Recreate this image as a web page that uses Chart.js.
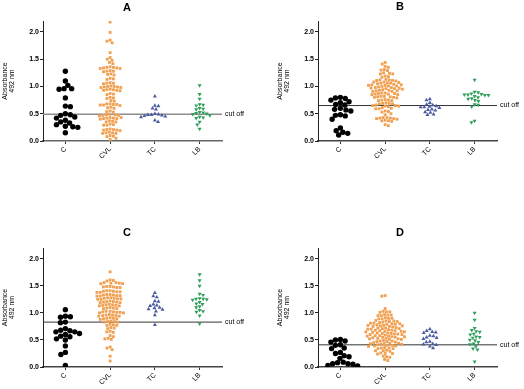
<!DOCTYPE html>
<html>
<head>
<meta charset="utf-8">
<script src="https://cdn.jsdelivr.net/npm/chart.js@4/dist/chart.umd.min.js"></script>
<style>
  html, body { margin: 0; padding: 0; background: #fff; }
  body { width: 524px; height: 389px; position: relative; overflow: hidden; }
  canvas { position: absolute; }
</style>
</head>
<body>
<canvas id="cA" width="262" height="195" style="left:0;top:0"></canvas>
<canvas id="cB" width="262" height="195" style="left:262px;top:0"></canvas>
<canvas id="cC" width="262" height="194" style="left:0;top:195px"></canvas>
<canvas id="cD" width="262" height="194" style="left:262px;top:195px"></canvas>
<script>
// ---------- data ----------
const categories = ['C', 'CVL', 'TC', 'LB'];
const yTicks = [0.0, 0.5, 1.0, 1.5, 2.0];
const yAxisTitle = ['Absorbance', '492 nm'];
const cutoffLabel = 'cut off';
const panelTitles = ['A', 'B', 'C', 'D'];
const cutoffs = [0.49, 0.65, 0.83, 0.41];

// Panel A
const A_C = [1.28, 1.10, 1.02, 0.96, 0.95, 0.96, 0.79, 0.64, 0.63, 0.50, 0.48, 0.47, 0.44, 0.42, 0.38, 0.35, 0.33, 0.30, 0.27, 0.26, 0.25, 0.15];
const A_CVL = [2.18, 1.99, 1.85, 1.83, 1.80, 1.62, 1.53, 1.50, 1.48, 1.44, 1.42,
  1.36, 1.35, 1.35, 1.34, 1.34, 1.33, 1.33, 1.29, 1.28, 1.28, 1.27, 1.23, 1.22, 1.21,
  1.15, 1.14, 1.13, 1.07, 1.06, 1.06, 1.05, 1.01, 1.00, 1.00, 0.99, 0.99, 0.98, 0.98,
  0.95, 0.94, 0.94, 0.93, 0.93, 0.92, 0.87, 0.86, 0.85, 0.80, 0.79, 0.78, 0.74, 0.73,
  0.68, 0.68, 0.67, 0.67, 0.66, 0.66, 0.65, 0.62, 0.61, 0.60, 0.55, 0.54, 0.53,
  0.49, 0.48, 0.48, 0.47, 0.47, 0.46, 0.43, 0.43, 0.42, 0.42, 0.41, 0.41, 0.40,
  0.37, 0.36, 0.35, 0.35, 0.31, 0.30, 0.29, 0.29, 0.22, 0.21, 0.21, 0.20, 0.20, 0.19,
  0.16, 0.15, 0.15, 0.14, 0.14, 0.10, 0.09, 0.08, 0.05, 0.03];
const A_TC = [0.82, 0.65, 0.64, 0.60, 0.58, 0.50, 0.49, 0.48, 0.48, 0.47, 0.46, 0.45, 0.44, 0.38, 0.35];
const A_LB = [1.02, 0.86, 0.77, 0.67, 0.66, 0.65, 0.60, 0.59, 0.58, 0.53, 0.52, 0.51, 0.50, 0.49, 0.47, 0.44, 0.43, 0.42, 0.35, 0.30, 0.22];

// Panel B
const B_C = [0.80, 0.79, 0.78, 0.75, 0.72, 0.70, 0.67, 0.66, 0.60, 0.58, 0.57, 0.55, 0.48, 0.47, 0.46, 0.40, 0.24, 0.19, 0.16, 0.14, 0.11];
const B_CVL = [1.44, 1.41, 1.37, 1.35, 1.31, 1.30, 1.29, 1.25, 1.24, 1.23, 1.23, 1.19, 1.18, 1.17,
  1.13, 1.12, 1.12, 1.11, 1.11, 1.10, 1.08, 1.08, 1.07, 1.07, 1.06, 1.06, 1.05,
  1.04, 1.03, 1.03, 1.02, 1.02, 1.01, 1.01, 1.00, 0.99, 0.98, 0.98, 0.97, 0.97, 0.96, 0.96, 0.95,
  0.94, 0.93, 0.93, 0.92, 0.92, 0.91, 0.91, 0.88, 0.88, 0.87, 0.87, 0.86, 0.86, 0.85, 0.85,
  0.82, 0.82, 0.81, 0.81, 0.80, 0.80, 0.79, 0.76, 0.75, 0.75, 0.74, 0.74,
  0.70, 0.69, 0.69, 0.68, 0.68, 0.66, 0.65, 0.65, 0.64, 0.64, 0.63, 0.61, 0.60, 0.59, 0.59,
  0.55, 0.54, 0.53, 0.50, 0.48, 0.43, 0.43, 0.42, 0.42, 0.41, 0.41, 0.40, 0.38, 0.37, 0.37, 0.36, 0.30, 0.28];
const B_TC = [0.77, 0.75, 0.70, 0.67, 0.66, 0.64, 0.63, 0.62, 0.62, 0.61, 0.58, 0.57, 0.56, 0.53, 0.52, 0.49, 0.48];
const B_LB = [1.12, 0.90, 0.89, 0.87, 0.86, 0.85, 0.85, 0.84, 0.84, 0.82, 0.80, 0.78, 0.77, 0.75, 0.73, 0.67, 0.66, 0.63, 0.37, 0.34];

// Panel C
const C_C = [1.06, 0.94, 0.93, 0.92, 0.83, 0.82, 0.71, 0.68, 0.67, 0.65, 0.65, 0.62, 0.60, 0.57, 0.56, 0.52, 0.50, 0.39, 0.27, 0.23, 0.03];
const C_CVL = [1.76, 1.61, 1.60, 1.59, 1.56, 1.56, 1.55, 1.55, 1.54, 1.54, 1.49, 1.49, 1.48, 1.48, 1.47, 1.47,
  1.41, 1.41, 1.40, 1.40, 1.39, 1.39, 1.38, 1.38, 1.34, 1.34, 1.33, 1.33, 1.32, 1.32, 1.31, 1.31,
  1.28, 1.28, 1.27, 1.27, 1.26, 1.26, 1.25, 1.25, 1.22, 1.21, 1.21, 1.20, 1.20, 1.19, 1.19,
  1.16, 1.15, 1.15, 1.14, 1.14, 1.13, 1.13, 1.10, 1.09, 1.09, 1.08, 1.08,
  1.03, 1.03, 1.02, 1.02, 1.01, 1.01, 1.00, 1.00, 0.97, 0.96, 0.96, 0.95, 0.95, 0.94, 0.94,
  0.91, 0.90, 0.90, 0.89, 0.89, 0.88, 0.85, 0.84, 0.84, 0.83, 0.83, 0.79, 0.78, 0.77, 0.77,
  0.73, 0.72, 0.71, 0.66, 0.65, 0.64, 0.58, 0.56, 0.53, 0.52, 0.51, 0.37, 0.35, 0.32, 0.20, 0.11];
const C_TC = [1.37, 1.31, 1.29, 1.22, 1.21, 1.16, 1.14, 1.13, 1.10, 1.09, 1.07, 1.06, 1.03, 0.96, 0.78];
const C_LB = [1.71, 1.60, 1.50, 1.35, 1.33, 1.27, 1.26, 1.26, 1.25, 1.24, 1.20, 1.17, 1.16, 1.12, 1.10, 1.05, 1.03, 1.02, 0.95, 0.80];

// Panel D
const D_C = [0.51, 0.50, 0.48, 0.46, 0.41, 0.40, 0.35, 0.34, 0.27, 0.25, 0.21, 0.19, 0.16, 0.09, 0.08, 0.06, 0.06, 0.05, 0.03, 0.02];
const D_CVL = [1.32, 1.31, 1.08, 1.03, 1.02, 1.02, 1.01, 0.97, 0.96, 0.96, 0.95, 0.95, 0.91, 0.90, 0.90, 0.89, 0.89,
  0.86, 0.85, 0.85, 0.84, 0.84, 0.83, 0.82, 0.81, 0.81, 0.80, 0.80, 0.79, 0.79,
  0.78, 0.77, 0.77, 0.76, 0.76, 0.75, 0.75, 0.74, 0.73, 0.72, 0.72, 0.71, 0.71, 0.70, 0.70, 0.69,
  0.68, 0.68, 0.67, 0.67, 0.66, 0.66, 0.65, 0.65, 0.64, 0.63, 0.63, 0.62, 0.62, 0.61, 0.61, 0.60, 0.60, 0.59,
  0.58, 0.58, 0.57, 0.57, 0.56, 0.56, 0.55, 0.55, 0.54, 0.53, 0.53, 0.52, 0.52, 0.51, 0.51,
  0.49, 0.48, 0.48, 0.47, 0.47, 0.46, 0.45, 0.44, 0.44, 0.43, 0.43, 0.42, 0.42,
  0.41, 0.40, 0.40, 0.39, 0.39, 0.38, 0.36, 0.35, 0.35, 0.34, 0.34, 0.31, 0.30, 0.30, 0.29,
  0.26, 0.25, 0.25, 0.24, 0.20, 0.19, 0.18, 0.14, 0.12];
const D_TC = [0.70, 0.67, 0.65, 0.64, 0.63, 0.58, 0.57, 0.55, 0.54, 0.52, 0.47, 0.46, 0.43, 0.42, 0.41, 0.38, 0.35];
const D_LB = [1.00, 0.87, 0.72, 0.68, 0.66, 0.65, 0.61, 0.60, 0.56, 0.55, 0.54, 0.50, 0.49, 0.46, 0.43, 0.42, 0.38, 0.34, 0.32, 0.10];

// ---------- styling ----------
Chart.defaults.font.family = '"Liberation Sans", Arial, sans-serif';
const groupColors = ['#000000', '#F0A050', '#4B5BA0', '#2E9E5B'];
const groupStyles = ['circle', 'rect', 'triangle', 'triangle'];
const groupRadius = [2.7, 2.0, 2.3, 2.3];
const groupRotation = [0, 0, 0, 180];
const groupSpacing = [5.0, 3.35, 3.6, 3.6];   // px between neighbouring marks in a swarm
const PX_PER_X = 44.75;   // px per category unit
const PX_PER_Y = 54.3;    // px per absorbance unit

// beeswarm: horizontal offsets derived from the values
function swarm(values, center, d) {
  const pts = values.map(v => ({ v, y: v * PX_PER_Y, x: 0 }));
  const order = pts.slice().sort((a, b) => b.v - a.v);
  const placed = [];
  let flip = 1;
  order.forEach(p => {
    const cands = [0];
    placed.forEach(q => {
      const dy = Math.abs(q.y - p.y);
      if (dy < d) {
        const dx = Math.sqrt(d * d - dy * dy);
        cands.push(q.x + dx, q.x - dx);
      }
    });
    const ok = cands.filter(x => placed.every(q => (q.x - x) ** 2 + (q.y - p.y) ** 2 >= d * d - 1e-6));
    ok.sort((a, b) => (Math.abs(a) - Math.abs(b)) || (flip * (b - a)));
    p.x = ok[0];
    flip = -flip;
    placed.push(p);
  });
  return pts.map(p => ({ x: center + p.x / PX_PER_X, y: p.v }));
}

function makePanel(canvasId, title, groups, cutoff, L) {
  const datasets = groups.map((vals, i) => ({
    type: 'scatter',
    label: categories[i],
    data: swarm(vals, i + 0.5, groupSpacing[i]),
    pointStyle: groupStyles[i],
    pointRadius: groupRadius[i],
    pointRotation: groupRotation[i],
    backgroundColor: groupColors[i],
    borderColor: groupColors[i],
    borderWidth: 0,
    yAxisID: 'y'
  }));
  datasets.push({
    type: 'line',
    label: cutoffLabel,
    data: [{ x: 0, y: cutoff }, { x: 4, y: cutoff }],
    borderColor: L.lineColor,
    borderWidth: L.lineWidth,
    pointRadius: 0,
    fill: false,
    yAxisID: 'y'
  });
  new Chart(document.getElementById(canvasId), {
    type: 'scatter',
    data: { datasets },
    options: {
      responsive: false,
      animation: false,
      events: [],
      layout: { padding: { left: L.padLeft, right: L.padRight, top: 0, bottom: 0 } },
      plugins: {
        legend: { display: false },
        tooltip: { enabled: false },
        title: {
          display: true, text: title, color: '#000',
          font: { size: 11, weight: 'bold' },
          padding: { top: L.tTop, bottom: L.tBottom }
        }
      },
      scales: {
        x: {
          type: 'linear', min: 0, max: 4,
          afterBuildTicks: s => { s.ticks = categories.map((c, i) => ({ value: i + 0.5 })); },
          afterFit: s => { s.height = L.xH; },
          ticks: {
            callback: v => categories[Math.floor(v)],
            minRotation: 45, maxRotation: 45, autoSkip: false,
            font: { size: 7 }, color: '#000', padding: 1
          },
          grid: { drawOnChartArea: false, drawTicks: true, tickLength: 3, color: '#333' },
          border: { color: L.axisColor, width: 1.5 }
        },
        y: {
          type: 'linear', min: 0, max: 2.2, position: 'left',
          afterBuildTicks: s => { s.ticks = yTicks.map(v => ({ value: v })); },
          afterFit: s => { s.width = L.yW; },
          ticks: {
            callback: v => Number(v).toFixed(1),
            font: { size: 7, weight: 'bold' }, color: '#000', padding: 1
          },
          grid: { drawOnChartArea: false, drawTicks: true, tickLength: 3, color: '#222' },
          border: { color: '#222', width: 1 },
          title: {
            display: true, text: yAxisTitle, color: '#000',
            font: { size: 7, lineHeight: 1.05 },
            padding: { top: L.yTitlePad, bottom: 0 }
          }
        },
        y2: {
          type: 'linear', min: 0, max: 2.2, position: 'right',
          afterBuildTicks: s => { s.ticks = [{ value: cutoff }]; },
          afterFit: s => { s.width = L.y2W; },
          ticks: { callback: () => cutoffLabel, font: { size: 7 }, color: '#000', padding: 3 },
          grid: { display: false, drawTicks: false },
          border: { display: false }
        }
      }
    }
  });
}

const leftLayoutTop = { padLeft: 0, padRight: 8, yW: 43, y2W: 32, tTop: 1, tBottom: 6.8, xH: 54, yTitlePad: 1, lineColor: '#8C8C8C', lineWidth: 1.5, axisColor: '#666' };
const rightLayoutTop = { padLeft: 14, padRight: 0, yW: 42, y2W: 27, tTop: 0, tBottom: 7.8, xH: 54, yTitlePad: 0, lineColor: '#333', lineWidth: 1, axisColor: '#444' };
const leftLayoutBot = { padLeft: 0, padRight: 8, yW: 43, y2W: 32, tTop: 31.4, tBottom: 8.4, xH: 22, yTitlePad: 1, lineColor: '#333', lineWidth: 1, axisColor: '#444' };
const rightLayoutBot = { padLeft: 14, padRight: 0, yW: 42, y2W: 27, tTop: 31.1, tBottom: 8.7, xH: 22, yTitlePad: 0, lineColor: '#333', lineWidth: 1, axisColor: '#444' };

makePanel('cA', panelTitles[0], [A_C, A_CVL, A_TC, A_LB], cutoffs[0], leftLayoutTop);
makePanel('cB', panelTitles[1], [B_C, B_CVL, B_TC, B_LB], cutoffs[1], rightLayoutTop);
makePanel('cC', panelTitles[2], [C_C, C_CVL, C_TC, C_LB], cutoffs[2], leftLayoutBot);
makePanel('cD', panelTitles[3], [D_C, D_CVL, D_TC, D_LB], cutoffs[3], rightLayoutBot);
</script>
</body>
</html>
